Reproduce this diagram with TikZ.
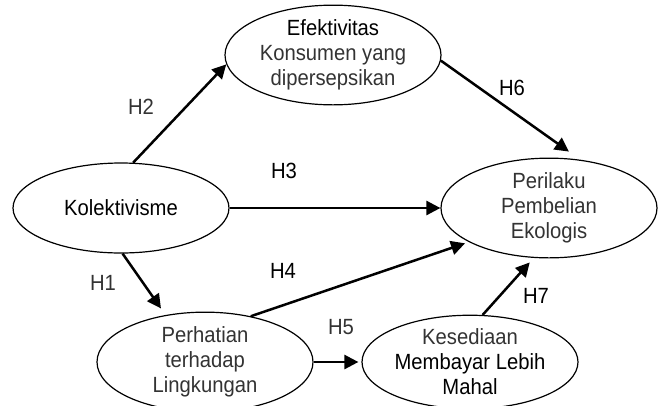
\documentclass[tikz,border=0pt]{standalone}
\usepackage{fontspec}
\setmainfont[FakeStretch=0.92]{Liberation Sans}
\usetikzlibrary{shapes.geometric,arrows.meta}
\definecolor{gtext}{HTML}{333333}
\tikzset{
  var/.style={ellipse,draw=black,line width=1.2pt,minimum width=216pt,minimum height=90pt,inner sep=0pt,align=center,font=\fontsize{22}{25}\selectfont},
  hyp/.style={line width=2.5pt,-{Triangle[length=14pt,width=14pt]}},
  lab/.style={inner sep=0pt,font=\fontsize{22}{25}\selectfont},
}
\begin{document}
\begin{tikzpicture}[x=1pt,y=-1pt]
\useasboundingbox (0,0) rectangle (661,405);
\node[var] (efe) at (333,55) {Efektivitas\\\textcolor{gtext}{Konsumen yang}\\\textcolor{gtext}{dipersepsikan}};
\node[var] (kol) at (121,208) {Kolektivisme};
\node[var,text=gtext] (per) at (549,208) {Perilaku\\Pembelian\\Ekologis};
\node[var,text=gtext] (perh) at (205,362) {Perhatian\\terhadap\\Lingkungan};
\node[var] (kes) at (470,362) {\textcolor{gtext}{Kesediaan}\\Membayar Lebih\\Mahal};
\draw[hyp] (kol.75) -- (efe.185);
\draw[hyp,shorten >=14pt] (efe.-3) -- (per.57);
\draw[hyp] (kol) -- (per);
\draw[hyp,shorten >=8pt] (kol.-88) -- (perh.130);
\draw[hyp,shorten >=4pt] (perh.45) -- (per.203);
\draw[hyp,shorten >=3pt] (perh) -- (kes);
\draw[hyp,shorten >=6pt] (kes.75) -- (per.-107);
\node[lab,text=gtext] (h2) at (141,107) {H2};
\node[lab] (h6) at (512,88) {H6};
\node[lab] (h3) at (284,171) {H3};
\node[lab] (h4) at (283,271) {H4};
\node[lab,text=gtext] (h1) at (103,283) {H1};
\node[lab,text=gtext] (h5) at (341,327) {H5};
\node[lab] (h7) at (536,296) {H7};
\end{tikzpicture}
\end{document}
